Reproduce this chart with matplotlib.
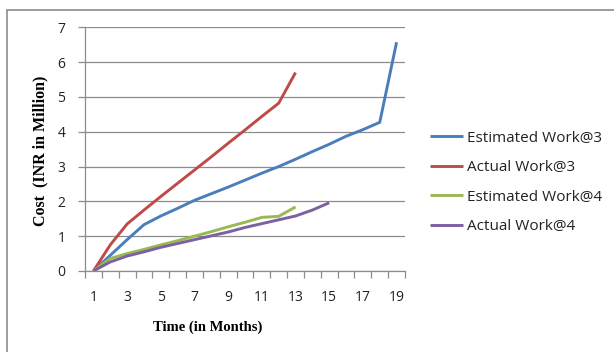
import matplotlib
matplotlib.use("Agg")
import matplotlib.pyplot as plt
from matplotlib.patches import Rectangle
import numpy as np

months = list(range(1, 20))
est_work3 = [0, 0.45, 0.9, 1.33, 1.58, 1.8, 2.03, 2.22, 2.41, 2.61, 2.81, 3.0, 3.21, 3.43, 3.64, 3.87, 4.06, 4.27, 6.57]
act_work3 = [0, 0.75, 1.35, 1.75, 2.14, 2.52, 2.9, 3.28, 3.67, 4.05, 4.44, 4.82, 5.7]
est_work4 = [0, 0.36, 0.5, 0.62, 0.75, 0.87, 1.0, 1.13, 1.27, 1.4, 1.54, 1.57, 1.84]
act_work4 = [0, 0.26, 0.43, 0.55, 0.68, 0.79, 0.9, 1.01, 1.12, 1.25, 1.36, 1.47, 1.58, 1.75, 1.96]

series = [
    ("Estimated Work@3", est_work3, "#4A7EBB"),
    ("Actual Work@3", act_work3, "#BE4B48"),
    ("Estimated Work@4", est_work4, "#98B954"),
    ("Actual Work@4", act_work4, "#7D60A0"),
]

W, H = 614, 352
fig = plt.figure(figsize=(W / 100, H / 100), dpi=100)
fig.patch.set_facecolor("white")

# outer chart frame
fig.add_artist(Rectangle((7 / W, -0.05), 1.1, (H - 10) / H + 0.05,
                         transform=fig.transFigure, fill=False,
                         edgecolor="#8c8c8c", linewidth=1.2))

ax = fig.add_axes([85 / W, (H - 271) / H, (405 - 85) / W, (271 - 27.3) / H])

for name, vals, col in series:
    ax.plot(months[:len(vals)], vals, color=col, linewidth=2.1,
            label=name, solid_capstyle="butt")

ax.set_xlim(0.5, 19.5)
ax.set_ylim(0, 7)
ax.set_yticks(range(0, 8))
ax.set_xticks(range(1, 20, 2))
ax.set_xticks(np.arange(0.5, 20, 1), minor=True)
ax.yaxis.grid(True, color="#8c8c8c", linewidth=0.9)
ax.set_axisbelow(True)

for s in ["top", "right"]:
    ax.spines[s].set_visible(False)
for s in ["left", "bottom"]:
    ax.spines[s].set_color("#8c8c8c")
    ax.spines[s].set_linewidth(0.9)

tick_font = "Open Sans"
ax.tick_params(axis="x", which="major", length=0, pad=14,
               labelsize=10, labelcolor="#222222")
ax.tick_params(axis="x", which="minor", length=5, color="#8c8c8c", width=0.9)
ax.tick_params(axis="y", length=5, color="#8c8c8c", width=0.9,
               labelsize=10, labelcolor="#222222", pad=9)
for lab in ax.get_xticklabels() + ax.get_yticklabels():
    lab.set_fontfamily(tick_font)

fig.text(208 / W, (H - 327) / H, "Time (in Months)", ha="center", va="center",
         fontfamily="Liberation Serif", fontweight="bold", fontsize=10.5)
fig.text(40 / W, (H - 151) / H, "Cost  (INR in Million)", ha="center",
         va="center", rotation=90, fontfamily="Liberation Serif",
         fontweight="bold", fontsize=11.5)

leg = ax.legend(loc="center left", bbox_to_anchor=(416 / W, (H - 182.5) / H),
                bbox_transform=fig.transFigure, frameon=False,
                prop={"family": tick_font, "size": 11},
                handlelength=2.2, handletextpad=0.25, labelspacing=0.95)
for t in leg.get_texts():
    t.set_color("#222222")

fig.savefig("out.png", dpi=100)
